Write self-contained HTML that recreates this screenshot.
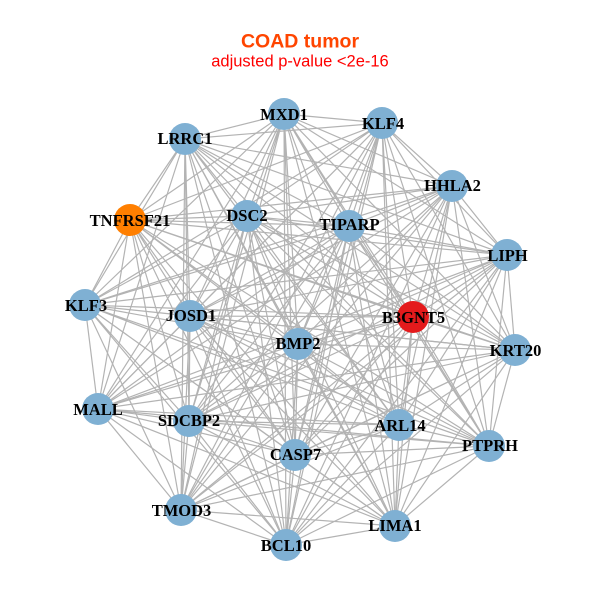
<!DOCTYPE html>
<html>
<head>
<meta charset="utf-8">
<style>
html,body{margin:0;padding:0;background:#fff;width:600px;height:600px;overflow:hidden}
svg{display:block}
.l{font-family:"Liberation Serif",serif;font-weight:bold;font-size:16.5px;fill:#000;text-anchor:middle}
</style>
</head>
<body>
<svg width="600" height="600" viewBox="0 0 600 600" xmlns="http://www.w3.org/2000/svg">
<rect width="600" height="600" fill="#fff"/>
<text x="300" y="47.4" text-anchor="middle" font-family="Liberation Sans, sans-serif" font-weight="bold" font-size="19.5" fill="#ff4500">COAD tumor</text>
<text x="300" y="66.4" text-anchor="middle" font-family="Liberation Sans, sans-serif" font-size="16.5" fill="#ff0000">adjusted p-value &lt;2e-16</text>
<g fill="none" stroke="#b3b3b3" stroke-width="1.2">
<path d="M284 114L185 139 284 114 382 123 284 114 452 186 284 114 130 220 284 114 247 216 284 114 349 226 284 114 507 255 284 114 85 305 284 114 190 316 284 114 413 317 284 114 298 344 284 114 515 350 284 114 98 409 284 114 189 421 284 114 399 425 284 114 489 446 284 114 295 455 284 114 181 510 284 114 395 526 284 114 286 545"/>
<path d="M185 139L382 123 185 139 452 186 185 139 130 220 185 139 247 216 185 139 349 226 185 139 507 255 185 139 85 305 185 139 190 316 185 139 413 317 185 139 298 344 185 139 515 350 185 139 98 409 185 139 189 421 185 139 399 425 185 139 489 446 185 139 295 455 185 139 181 510 185 139 395 526 185 139 286 545"/>
<path d="M382 123L452 186 382 123 130 220 382 123 247 216 382 123 349 226 382 123 507 255 382 123 85 305 382 123 190 316 382 123 413 317 382 123 298 344 382 123 515 350 382 123 98 409 382 123 189 421 382 123 399 425 382 123 489 446 382 123 295 455 382 123 181 510 382 123 395 526 382 123 286 545"/>
<path d="M452 186L130 220 452 186 247 216 452 186 349 226 452 186 507 255 452 186 85 305 452 186 190 316 452 186 413 317 452 186 298 344 452 186 515 350 452 186 98 409 452 186 189 421 452 186 399 425 452 186 489 446 452 186 295 455 452 186 181 510 452 186 395 526 452 186 286 545"/>
<path d="M130 220L247 216 130 220 349 226 130 220 507 255 130 220 85 305 130 220 190 316 130 220 413 317 130 220 298 344 130 220 515 350 130 220 98 409 130 220 189 421 130 220 399 425 130 220 489 446 130 220 295 455 130 220 181 510 130 220 395 526 130 220 286 545"/>
<path d="M247 216L349 226 247 216 507 255 247 216 85 305 247 216 190 316 247 216 413 317 247 216 298 344 247 216 515 350 247 216 98 409 247 216 189 421 247 216 399 425 247 216 489 446 247 216 295 455 247 216 181 510 247 216 395 526 247 216 286 545"/>
<path d="M349 226L507 255 349 226 85 305 349 226 190 316 349 226 413 317 349 226 298 344 349 226 515 350 349 226 98 409 349 226 189 421 349 226 399 425 349 226 489 446 349 226 295 455 349 226 181 510 349 226 395 526 349 226 286 545"/>
<path d="M507 255L85 305 507 255 190 316 507 255 413 317 507 255 298 344 507 255 515 350 507 255 98 409 507 255 189 421 507 255 399 425 507 255 489 446 507 255 295 455 507 255 181 510 507 255 395 526 507 255 286 545"/>
<path d="M85 305L190 316 85 305 413 317 85 305 298 344 85 305 515 350 85 305 98 409 85 305 189 421 85 305 399 425 85 305 489 446 85 305 295 455 85 305 181 510 85 305 395 526 85 305 286 545"/>
<path d="M190 316L413 317 190 316 298 344 190 316 515 350 190 316 98 409 190 316 189 421 190 316 399 425 190 316 489 446 190 316 295 455 190 316 181 510 190 316 395 526 190 316 286 545"/>
<path d="M413 317L298 344 413 317 515 350 413 317 98 409 413 317 189 421 413 317 399 425 413 317 489 446 413 317 295 455 413 317 181 510 413 317 395 526 413 317 286 545"/>
<path d="M298 344L515 350 298 344 98 409 298 344 189 421 298 344 399 425 298 344 489 446 298 344 295 455 298 344 181 510 298 344 395 526 298 344 286 545"/>
<path d="M515 350L98 409 515 350 189 421 515 350 399 425 515 350 489 446 515 350 295 455 515 350 181 510 515 350 395 526 515 350 286 545"/>
<path d="M98 409L189 421 98 409 399 425 98 409 489 446 98 409 295 455 98 409 181 510 98 409 395 526 98 409 286 545"/>
<path d="M189 421L399 425 189 421 489 446 189 421 295 455 189 421 181 510 189 421 395 526 189 421 286 545"/>
<path d="M399 425L489 446 399 425 295 455 399 425 181 510 399 425 395 526 399 425 286 545"/>
<path d="M489 446L295 455 489 446 181 510 489 446 395 526 489 446 286 545"/>
<path d="M295 455L181 510 295 455 395 526 295 455 286 545"/>
<path d="M181 510L395 526 181 510 286 545"/>
<path d="M395 526L286 545"/>
</g>
<g fill="#7fb0d3">
<circle cx="284" cy="114" r="16"/>
<circle cx="185" cy="139" r="16"/>
<circle cx="382" cy="123" r="16"/>
<circle cx="452" cy="186" r="16"/>
<circle cx="130" cy="220" r="16" fill="#ff7f00"/>
<circle cx="247" cy="216" r="16"/>
<circle cx="349" cy="226" r="16"/>
<circle cx="507" cy="255" r="16"/>
<circle cx="85" cy="305" r="16"/>
<circle cx="190" cy="316" r="16"/>
<circle cx="413" cy="317" r="16" fill="#e41a1c"/>
<circle cx="298" cy="344" r="16"/>
<circle cx="515" cy="350" r="16"/>
<circle cx="98" cy="409" r="16"/>
<circle cx="189" cy="421" r="16"/>
<circle cx="399" cy="425" r="16"/>
<circle cx="489" cy="446" r="16"/>
<circle cx="295" cy="455" r="16"/>
<circle cx="181" cy="510" r="16"/>
<circle cx="395" cy="526" r="16"/>
<circle cx="286" cy="545" r="16"/>
</g>
<g class="l">
<text class="l" x="284" y="120">MXD1</text>
<text class="l" x="185" y="144">LRRC1</text>
<text class="l" x="383" y="129">KLF4</text>
<text class="l" x="452.5" y="191">HHLA2</text>
<text class="l" x="130" y="226">TNFRSF21</text>
<text class="l" x="247" y="221">DSC2</text>
<text class="l" x="349.5" y="230">TIPARP</text>
<text class="l" x="507.5" y="261">LIPH</text>
<text class="l" x="86" y="311">KLF3</text>
<text class="l" x="191" y="321">JOSD1</text>
<text class="l" x="413.5" y="323">B3GNT5</text>
<text class="l" x="298" y="349">BMP2</text>
<text class="l" x="515.5" y="356">KRT20</text>
<text class="l" x="98" y="415">MALL</text>
<text class="l" x="189" y="426">SDCBP2</text>
<text class="l" x="400" y="431">ARL14</text>
<text class="l" x="490" y="451">PTPRH</text>
<text class="l" x="295.5" y="460">CASP7</text>
<text class="l" x="181.5" y="516">TMOD3</text>
<text class="l" x="395" y="531">LIMA1</text>
<text class="l" x="286" y="551">BCL10</text>
</g>
</svg>
</body>
</html>
